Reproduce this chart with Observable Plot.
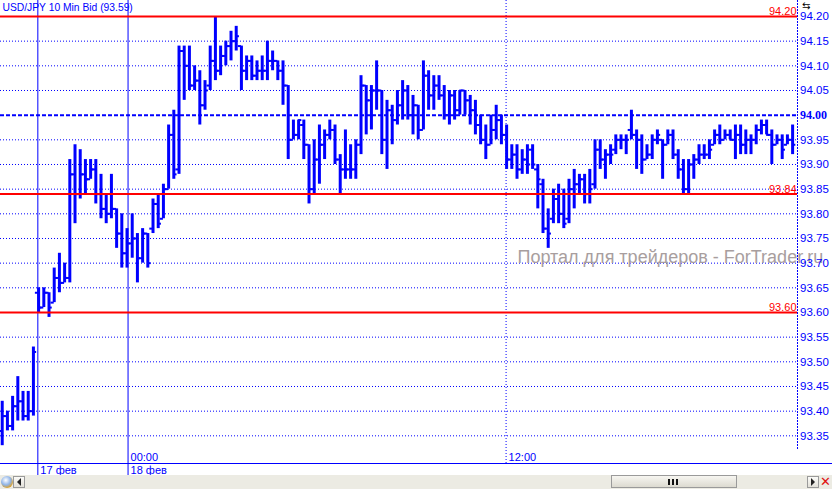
<!DOCTYPE html>
<html><head><meta charset="utf-8">
<script src="https://cdn.jsdelivr.net/npm/d3@7"></script>
<script src="https://cdn.jsdelivr.net/npm/@observablehq/plot@0.6"></script>
<style>
html,body{margin:0;padding:0;background:#fff;overflow:hidden;width:832px;height:489px;}
#chart{position:relative;}
#chart svg{display:block;}
#icon{position:absolute;left:802px;top:0;font:10px/11px 'DejaVu Sans',sans-serif;color:#000;}
#sb{position:relative;width:832px;height:14px;background:#ecebe3;}
#sb div{position:absolute;box-sizing:border-box;}
.btn{top:1px;height:12px;width:12px;border:1px solid #9a9a9a;background:linear-gradient(#fbfbf8,#e2e0d8);}
.tri{width:0;height:0;border-top:4px solid transparent;border-bottom:4px solid transparent;}
</style></head><body>
<div id="chart"><div id="icon">⇆</div></div>
<div id="sb">
  <div style="left:1px;top:1px;width:12px;height:12px;border-radius:50%;background:radial-gradient(circle at 40% 35%,#ffffff,#8fb4e8 45%,#e0a020 75%,#b07010);"></div>
  <div class="btn" style="left:13px;"><div class="tri" style="left:3px;top:1px;border-right:4px solid #222;"></div></div>
  <div style="left:611px;top:0;width:126px;height:13px;border:1px solid #9a9a9a;background:linear-gradient(#f7f6f1,#dcdad0);"><div style="left:56px;top:3px;width:2px;height:6px;background:#111;"></div><div style="left:60px;top:3px;width:2px;height:6px;background:#111;"></div><div style="left:64px;top:3px;width:2px;height:6px;background:#111;"></div></div>
  <div class="btn" style="left:807px;"><div class="tri" style="left:3px;top:1px;border-left:4px solid #222;"></div></div>
  <div style="left:820px;top:0;width:12px;height:14px;color:#e01010;font:bold 13px 'DejaVu Sans',sans-serif;line-height:14px;">✕</div>
</div>
<script>
// OHLC 10-minute bars, USD/JPY bid, left to right
const highs = [
  93.42, 93.40, 93.43, 93.47, 93.44, 93.44, 93.53, 93.65, 93.65, 93.64,
  93.69, 93.72, 93.70, 93.91, 93.94, 93.93, 93.91, 93.91, 93.91, 93.88,
  93.84, 93.88, 93.81, 93.80, 93.77, 93.80, 93.76, 93.77, 93.76, 93.83,
  93.84, 93.86, 93.98, 94.01, 94.14, 94.14, 94.14, 94.10, 94.09, 94.07,
  94.14, 94.20, 94.14, 94.15, 94.17, 94.18, 94.14, 94.12, 94.12, 94.11,
  94.12, 94.15, 94.13, 94.11, 94.11, 94.06, 93.99, 93.99, 93.99, 93.94,
  93.95, 93.98, 93.97, 93.99, 93.98, 93.92, 93.97, 93.94, 93.95, 94.08,
  94.06, 94.06, 94.11, 94.05, 94.03, 94.02, 94.05, 94.07, 94.06, 94.04,
  94.02, 94.11, 94.09, 94.08, 94.08, 94.06, 94.05, 94.05, 94.05, 94.05,
  94.04, 94.03, 94.00, 93.98, 94.00, 94.02, 94.00, 93.98, 93.94, 93.94,
  93.93, 93.94, 93.94, 93.90, 93.87, 93.81, 93.85, 93.86, 93.85, 93.87,
  93.89, 93.88, 93.88, 93.89, 93.95, 93.95, 93.93, 93.94, 93.96, 93.96,
  93.96, 94.01, 93.97, 93.96, 93.94, 93.96, 93.97, 93.95, 93.97, 93.97,
  93.93, 93.91, 93.91, 93.92, 93.94, 93.94, 93.95, 93.97, 93.98, 93.97,
  93.97, 93.98, 93.98, 93.97, 93.96, 93.98, 93.99, 93.99, 93.97, 93.96,
  93.96, 93.96, 93.98
];
const lows = [
  93.33, 93.36, 93.36, 93.38, 93.38, 93.38, 93.39, 93.60, 93.61, 93.59,
  93.62, 93.64, 93.66, 93.66, 93.78, 93.83, 93.84, 93.87, 93.82, 93.79,
  93.78, 93.79, 93.73, 93.69, 93.69, 93.71, 93.66, 93.70, 93.69, 93.76,
  93.77, 93.79, 93.85, 93.87, 93.88, 94.03, 94.05, 94.05, 93.98, 94.01,
  94.05, 94.07, 94.08, 94.10, 94.11, 94.13, 94.05, 94.07, 94.07, 94.07,
  94.07, 94.07, 94.09, 94.07, 94.02, 93.91, 93.95, 93.95, 93.91, 93.82,
  93.84, 93.86, 93.91, 93.95, 93.90, 93.84, 93.87, 93.87, 93.87, 93.92,
  93.96, 93.97, 94.01, 93.92, 93.89, 93.94, 93.98, 93.99, 93.99, 93.96,
  93.95, 93.97, 94.01, 94.01, 94.03, 93.99, 93.98, 93.99, 94.00, 94.00,
  93.98, 93.96, 93.94, 93.91, 93.94, 93.95, 93.94, 93.89, 93.89, 93.87,
  93.88, 93.88, 93.89, 93.81, 93.76, 93.73, 93.78, 93.78, 93.77, 93.78,
  93.81, 93.84, 93.82, 93.82, 93.85, 93.89, 93.87, 93.90, 93.92, 93.93,
  93.92, 93.95, 93.89, 93.88, 93.91, 93.91, 93.94, 93.87, 93.94, 93.91,
  93.87, 93.84, 93.84, 93.87, 93.90, 93.91, 93.91, 93.94, 93.94, 93.95,
  93.95, 93.91, 93.92, 93.92, 93.92, 93.94, 93.96, 93.96, 93.90, 93.94,
  93.91, 93.94, 93.92
];
const opens = [
  93.36, 93.39, 93.37, 93.41, 93.42, 93.39, 93.40, 93.64, 93.61, 93.64,
  93.62, 93.67, 93.66, 93.67, 93.88, 93.84, 93.88, 93.87, 93.89, 93.84,
  93.81, 93.80, 93.81, 93.76, 93.72, 93.74, 93.75, 93.71, 93.76, 93.77,
  93.82, 93.79, 93.85, 93.96, 93.89, 94.13, 94.10, 94.06, 94.07, 94.02,
  94.06, 94.11, 94.09, 94.12, 94.14, 94.15, 94.14, 94.09, 94.11, 94.08,
  94.09, 94.09, 94.11, 94.11, 94.09, 94.06, 93.95, 93.96, 93.98, 93.94,
  93.85, 93.91, 93.94, 93.96, 93.97, 93.91, 93.89, 93.89, 93.89, 93.94,
  94.06, 94.03, 94.05, 94.05, 93.95, 94.01, 93.99, 94.02, 94.05, 94.00,
  94.02, 93.97, 94.08, 94.04, 94.06, 94.04, 94.00, 94.04, 94.01, 94.05,
  94.03, 94.01, 93.98, 93.95, 93.94, 93.97, 93.99, 93.96, 93.91, 93.92,
  93.89, 93.91, 93.93, 93.89, 93.86, 93.77, 93.79, 93.83, 93.80, 93.79,
  93.85, 93.86, 93.87, 93.84, 93.86, 93.93, 93.91, 93.92, 93.93, 93.95,
  93.95, 93.97, 93.96, 93.95, 93.91, 93.92, 93.95, 93.95, 93.94, 93.96,
  93.92, 93.89, 93.85, 93.90, 93.91, 93.92, 93.92, 93.94, 93.96, 93.95,
  93.96, 93.95, 93.96, 93.94, 93.95, 93.95, 93.97, 93.98, 93.96, 93.94,
  93.95, 93.94, 93.95
];
const closes = [
  93.39, 93.37, 93.41, 93.42, 93.39, 93.40, 93.52, 93.61, 93.64, 93.61,
  93.67, 93.66, 93.67, 93.88, 93.84, 93.88, 93.87, 93.89, 93.84, 93.81,
  93.80, 93.81, 93.76, 93.72, 93.74, 93.75, 93.71, 93.76, 93.70, 93.82,
  93.78, 93.85, 93.96, 93.88, 94.13, 94.10, 94.06, 94.07, 94.02, 94.05,
  94.11, 94.09, 94.12, 94.14, 94.15, 94.16, 94.09, 94.11, 94.08, 94.09,
  94.09, 94.11, 94.11, 94.09, 94.06, 93.95, 93.96, 93.99, 93.94, 93.85,
  93.91, 93.94, 93.96, 93.97, 93.91, 93.89, 93.89, 93.89, 93.94, 94.06,
  94.03, 94.05, 94.05, 93.95, 94.01, 93.99, 94.02, 94.05, 94.00, 94.02,
  93.97, 94.08, 94.04, 94.06, 94.04, 94.00, 94.04, 94.01, 94.05, 94.03,
  94.01, 93.98, 93.95, 93.94, 93.97, 93.99, 93.96, 93.91, 93.92, 93.89,
  93.91, 93.90, 93.90, 93.87, 93.77, 93.76, 93.83, 93.80, 93.78, 93.85,
  93.86, 93.87, 93.84, 93.85, 93.93, 93.91, 93.92, 93.92, 93.95, 93.95,
  93.95, 93.96, 93.95, 93.91, 93.92, 93.95, 93.96, 93.94, 93.96, 93.92,
  93.89, 93.85, 93.90, 93.91, 93.92, 93.92, 93.93, 93.96, 93.95, 93.96,
  93.95, 93.96, 93.94, 93.95, 93.95, 93.97, 93.98, 93.96, 93.94, 93.95,
  93.93, 93.95, 93.94
];
// price axis ticks
const priceTicks = [93.35, 93.40, 93.45, 93.50, 93.55, 93.60, 93.65, 93.70, 93.75,
  93.80, 93.85, 93.90, 93.95, 94.00, 94.05, 94.10, 94.15, 94.20];
const levelLines = [94.20, 93.84, 93.60];   // red horizontal levels
const pivotLine = [94.00];                   // dashed blue level
// time markers, in bar-index units
const dayLines = [{j: 6.85, label: "17 фев"}, {j: 24.2, label: "18 фев"}];
const hourLines = [{j: 24.2, label: "00:00"}, {j: 96.9, label: "12:00"}];
const title = "USD/JPY 10 Min Bid (93.59)";
const watermark = "Портал для трейдеров - ForTrader.ru";

const bars = highs.map((h, j) => ({j, high: h, low: lows[j], open: opens[j], close: closes[j]}));
const gridTicks = priceTicks.filter(v => !levelLines.includes(v) && !pivotLine.includes(v));
const blue = "#0000ff", red = "#ff0000";
const tickLen = 0.62;
const yDomain = [93.2939, 94.2324];

const chart = Plot.plot({
  width: 832, height: 475,
  marginLeft: 0, marginRight: 35, marginTop: 0, marginBottom: 12,
  x: {type: "linear", domain: [-0.33, 152.94], axis: null},
  y: {type: "linear", domain: yDomain, axis: null},
  style: {fontFamily: "'Liberation Sans', Arial, sans-serif", fontSize: "11px", background: "#fff", overflow: "visible"},
  marks: [
    Plot.ruleY(gridTicks, {y: d => d, stroke: blue, strokeWidth: 1, strokeDasharray: "1,2"}),
    Plot.frame({anchor: "right", stroke: blue, strokeDasharray: "1,2", insetBottom: 13}),
    Plot.ruleX([hourLines[1]], {x: "j", stroke: blue, strokeWidth: 1, strokeDasharray: "1,2"}),
    Plot.ruleX(dayLines, {x: "j", stroke: blue, strokeWidth: 1, insetBottom: -12}),
    Plot.ruleY([yDomain[0]], {y: d => d, stroke: blue, strokeWidth: 1, insetRight: -35}),
    Plot.text([watermark], {frameAnchor: "top-left", dx: 517, dy: 262, text: d => d, textAnchor: "start", lineAnchor: "bottom", fill: "#a89e9e", fontSize: 18}),
    Plot.ruleX(bars, {x: "j", y1: "low", y2: "high", stroke: blue, strokeWidth: 3}),
    Plot.ruleY(bars, {y: "open", x1: d => d.j - tickLen, x2: "j", stroke: blue, strokeWidth: 2}),
    Plot.ruleY(bars, {y: "close", x1: "j", x2: d => d.j + tickLen, stroke: blue, strokeWidth: 2}),
    Plot.ruleY(pivotLine, {y: d => d, stroke: blue, strokeWidth: 2, strokeDasharray: "4,2"}),
    Plot.ruleY(levelLines, {y: d => d, stroke: red, strokeWidth: 2}),
    Plot.text(levelLines, {y: d => d, text: d => d.toFixed(2), frameAnchor: "right", dx: -1, dy: -1, textAnchor: "end", lineAnchor: "bottom", fill: red, fontSize: 11}),
    Plot.text(priceTicks.filter(v => !pivotLine.includes(v)), {y: d => d, text: d => d.toFixed(2), frameAnchor: "right", dx: 2.5, textAnchor: "start", fill: blue, fontSize: 11.5}),
    Plot.text(pivotLine, {y: d => d, text: d => d.toFixed(2), frameAnchor: "right", dx: 2.5, textAnchor: "start", fill: blue, fontSize: 12, fontWeight: "bold", fontFamily: "'Liberation Serif', 'Times New Roman', serif"}),
    Plot.text(hourLines, {x: "j", text: "label", frameAnchor: "bottom", dx: 2.5, dy: -2.3, textAnchor: "start", lineAnchor: "bottom", fill: blue, fontSize: 11}),
    Plot.text(dayLines, {x: "j", text: "label", frameAnchor: "bottom", dx: 2.5, dy: 10.5, textAnchor: "start", lineAnchor: "bottom", fill: blue, fontSize: 11}),
    Plot.text([title], {frameAnchor: "top-left", dx: 2, dy: 3, text: d => d, textAnchor: "start", lineAnchor: "top", fill: blue, fontSize: 10.3})
  ]
});
document.getElementById("chart").appendChild(chart);
</script>
</body></html>
